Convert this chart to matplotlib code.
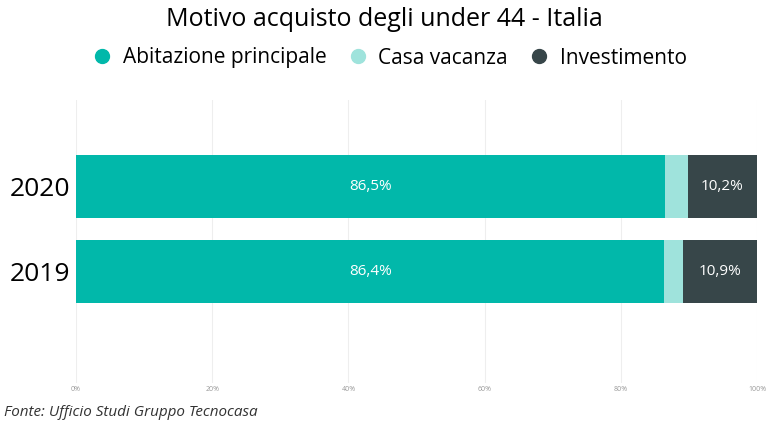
import matplotlib
matplotlib.use("Agg")
import matplotlib.pyplot as plt
from matplotlib.lines import Line2D

plt.rcParams["font.family"] = "Open Sans"

years = ["2019", "2020"]
abitazione = [86.4, 86.5]
vacanza = [2.7, 3.3]
investimento = [10.9, 10.2]
series_names = ["Abitazione principale", "Casa vacanza", "Investimento"]
colors = ["#01B8AA", "#9FE3DC", "#374649"]
xticks = [0, 20, 40, 60, 80, 100]

fig = plt.figure(figsize=(7.68, 4.38), dpi=100)
ax = fig.add_axes([76/768, 1-383/438, (757-76)/768, (383-100)/438])
ypos = list(range(len(years)))
left = [0]*len(years)
for vals, c in zip([abitazione, vacanza, investimento], colors):
    ax.barh(ypos, vals, left=left, height=0.74, color=c, zorder=2)
    left = [l+v for l, v in zip(left, vals)]
for i in ypos:
    ax.text(abitazione[i]/2, i, f"{abitazione[i]:.1f}%".replace(".", ","), color="white",
            ha="center", va="center", fontsize=11)
    ax.text(100-investimento[i]/2, i, f"{investimento[i]:.1f}%".replace(".", ","), color="white",
            ha="center", va="center", fontsize=11)
ax.set_xlim(0, 100)
ax.set_ylim(-1.31, 2.02)
ax.set_yticks(ypos)
ax.set_yticklabels(years, fontsize=19)
ax.set_xticks(xticks)
ax.set_xticklabels([f"{t}%" for t in xticks], fontsize=5, color="#999999")
ax.tick_params(length=0, pad=2)
ax.tick_params(axis="y", pad=4)
ax.grid(axis="x", color="#eeeeee", linewidth=0.8, zorder=0)
for s in ax.spines.values():
    s.set_visible(False)

fig.text(0.5, 1-20/438, "Motivo acquisto degli under 44 - Italia", ha="center", va="center", fontsize=18)
handles = [Line2D([], [], marker="o", linestyle="", color=c, markersize=10) for c in colors]
fig.legend(handles, series_names, loc="center", bbox_to_anchor=(0.5, 1-58/438), ncol=3,
           frameon=False, fontsize=15, handletextpad=0.0, columnspacing=0.5)
fig.text(4/768, 1-413/438, "Fonte: Ufficio Studi Gruppo Tecnocasa", ha="left", va="center",
         fontsize=11, style="italic", color="#333333")
fig.savefig("out.png", dpi=100)
